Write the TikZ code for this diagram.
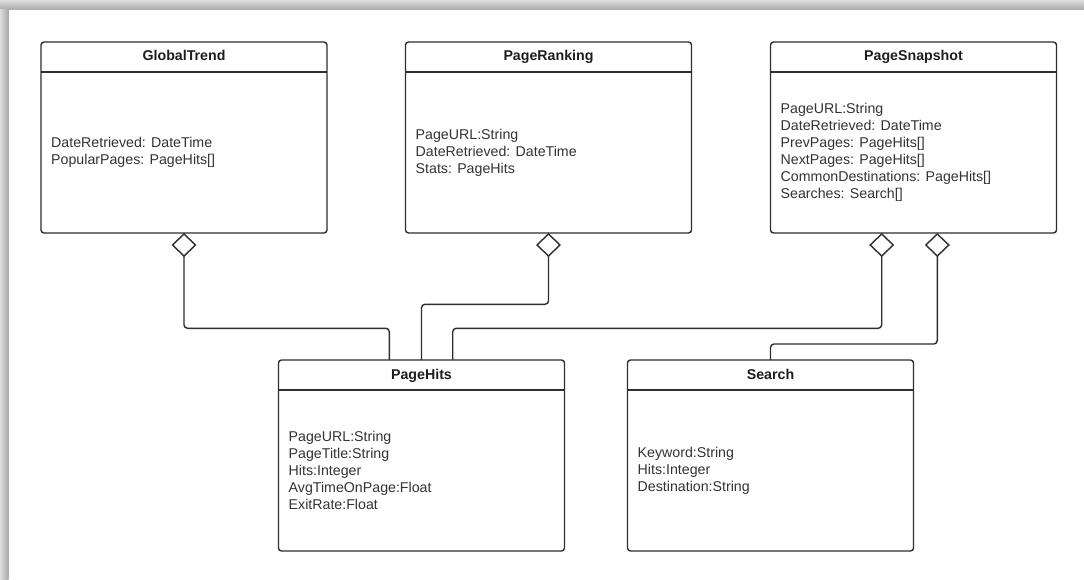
\documentclass[tikz,border=0pt]{standalone}
\usepackage{fontspec}
\setmainfont{Liberation Sans}
\usetikzlibrary{arrows.meta,calc}

\definecolor{lineclr}{HTML}{2E2E2E}
\definecolor{textclr}{HTML}{333333}
\definecolor{titleclr}{HTML}{1E1E1E}
\definecolor{shadedark}{HTML}{A8A8A8}
\definecolor{shadelight}{HTML}{DCDCDC}

\begin{document}
\begin{tikzpicture}[x=1pt,y=-1pt,
  ink/.style={draw=lineclr, line width=1.4pt},
  classbox/.style={ink, fill=white, rounded corners=3pt,
    minimum width=286pt, minimum height=191pt, inner sep=0pt, outer sep=0pt},
  classtitle/.style={font=\fontsize{14.2}{17}\selectfont\bfseries,
    text=titleclr, inner sep=0pt, anchor=base},
  classbody/.style={font=\fontsize{14.2}{17.1}\selectfont, text=textclr,
    align=left, inner sep=0pt, anchor=west},
  agg/.style={ink, rounded corners=3.5pt,
    {Diamond[open, length=24pt, width=25pt]}-},
]
% page and its shadow
\useasboundingbox (0,0) rectangle (1084,580);
\fill[white] (0,0) rectangle (1084,580);
\shade[top color=shadelight, bottom color=shadedark] (0,0) rectangle (1084,10);
\shade[left color=shadelight, right color=shadedark] (0,10) rectangle (8.5,580);

% header rule and texts of one class
\newcommand{\umlclass}[4]{%
  \node[classbox] (#1) at (#2) {};
  \draw[ink] ($(#1.north west)+(0,30)$) -- ($(#1.north east)+(0,30)$);
  \node[classtitle] (#1-title) at ($(#1.north)+(0,19)$) {#3};
  \node[classbody] (#1-body) at ($(#1.west)+(10,15)$) {#4};
}

\umlclass{gt}{184,137.5}{GlobalTrend}
  {DateRetrieved: DateTime\\PopularPages: PageHits[]}
\umlclass{pr}{548.5,137.5}{PageRanking}
  {PageURL:String\\DateRetrieved: DateTime\\Stats: PageHits}
\umlclass{ps}{913.5,137.5}{PageSnapshot}
  {PageURL:String\\DateRetrieved: DateTime\\PrevPages: PageHits[]\\
   NextPages: PageHits[]\\CommonDestinations: PageHits[]\\Searches: Search[]}
\umlclass{ph}{421.5,455.5}{PageHits}
  {PageURL:String\\PageTitle:String\\Hits:Integer\\
   AvgTimeOnPage:Float\\ExitRate:Float}
\umlclass{se}{770.5,455.5}{Search}
  {Keyword:String\\Hits:Integer\\Destination:String}

% attachment points
\coordinate (psA) at ($(ps.south)+(-31.8,0)$);
\coordinate (psB) at ($(ps.south)+(23.8,0)$);
\coordinate (phA) at ($(ph.north)+(-32.2,0)$);
\coordinate (phC) at ($(ph.north)+(31.2,0)$);

% aggregations
\draw[agg] (gt.south) -- (gt.south |- 0,328.3) -- (phA |- 0,328.3) -- (phA);
\draw[agg] (pr.south) -- (pr.south |- 0,304.3) -- (ph.north |- 0,304.3) -- (ph.north);
\draw[agg] (psA) -- (psA |- 0,328.3) -- (phC |- 0,328.3) -- (phC);
\draw[agg] (psB) -- (psB |- 0,344) -- (se.north |- 0,344) -- (se.north);
\end{tikzpicture}
\end{document}
